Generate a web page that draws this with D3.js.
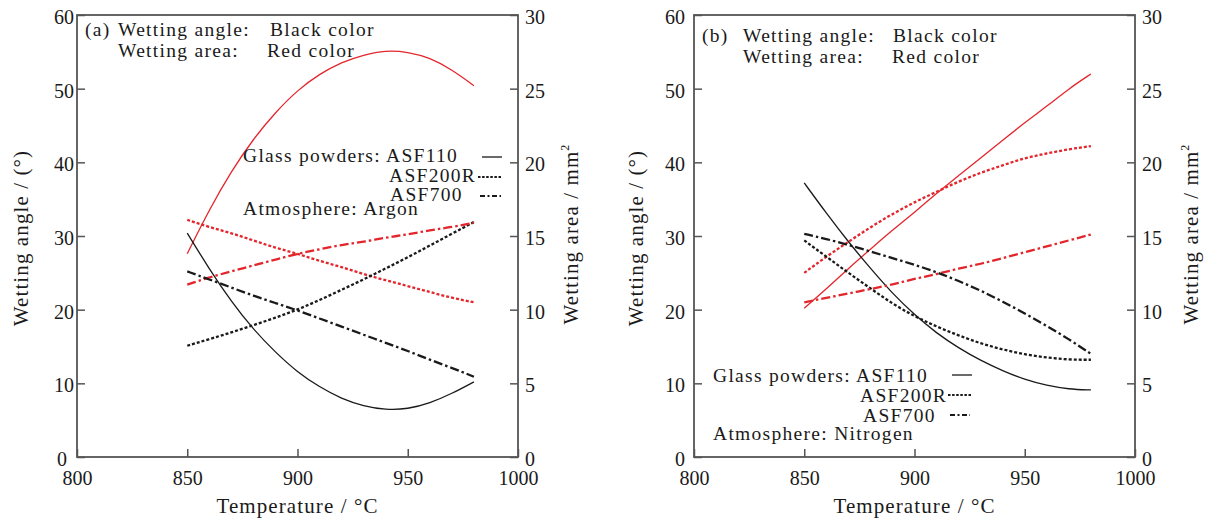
<!DOCTYPE html>
<html>
<head>
<meta charset="utf-8">
<script src="https://cdn.jsdelivr.net/npm/d3@7"></script>
<style>
body { margin: 0; background: #fff; }
svg { font-family: 'Liberation Serif', serif; }
</style>
</head>
<body>
<svg width="1206" height="521"></svg>
<script>
// readings taken every 10 degC, 850 .. 980
var temps = [850, 860, 870, 880, 890, 900, 910, 920, 930, 940, 950, 960, 970, 980];

// (a) argon
var angleArgon110  = [30.4, 25.5, 21.1, 17.3, 14.2, 11.5, 9.5, 7.9, 6.9, 6.4, 6.5, 7.3, 8.6, 10.2];
var angleArgon200R = [15.1, 16.0, 16.9, 17.9, 18.9, 20.0, 21.3, 22.7, 24.1, 25.6, 27.1, 28.7, 30.3, 31.9];
var angleArgon700  = [25.2, 24.1, 23.0, 21.9, 20.9, 19.9, 18.8, 17.7, 16.6, 15.5, 14.4, 13.2, 12.1, 10.9];
var areaArgon110   = [13.8, 16.8, 19.4, 21.6, 23.4, 24.9, 26.0, 26.8, 27.3, 27.6, 27.5, 27.1, 26.3, 25.2];
var areaArgon200R  = [16.1, 15.6, 15.2, 14.7, 14.2, 13.8, 13.3, 12.9, 12.4, 12.0, 11.6, 11.2, 10.8, 10.5];
var areaArgon700   = [11.7, 12.2, 12.6, 13.0, 13.4, 13.8, 14.1, 14.4, 14.6, 14.9, 15.1, 15.4, 15.6, 15.9];

// (b) nitrogen
var angleNitro110  = [37.2, 33.1, 29.2, 25.6, 22.2, 19.3, 16.8, 14.8, 13.1, 11.7, 10.5, 9.7, 9.2, 9.1];
var angleNitro200R = [29.4, 27.2, 25.0, 22.9, 20.8, 19.1, 17.7, 16.5, 15.4, 14.6, 13.9, 13.5, 13.2, 13.2];
var angleNitro700  = [30.3, 29.6, 28.8, 27.9, 27.0, 26.1, 25.1, 23.9, 22.6, 21.1, 19.5, 17.8, 16.0, 14.0];
var areaNitro110   = [10.1, 11.4, 12.8, 14.1, 15.4, 16.6, 17.9, 19.1, 20.3, 21.5, 22.7, 23.8, 25.0, 26.0];
var areaNitro200R  = [12.5, 13.6, 14.6, 15.6, 16.5, 17.3, 18.0, 18.7, 19.3, 19.8, 20.3, 20.6, 20.9, 21.1];
var areaNitro700   = [10.5, 10.8, 11.1, 11.4, 11.7, 12.1, 12.4, 12.8, 13.1, 13.5, 13.9, 14.3, 14.7, 15.1];

var tempTicks = [800, 850, 900, 950, 1000];
var angleTicks = [0, 10, 20, 30, 40, 50, 60];
var areaTicks = [0, 5, 10, 15, 20, 25, 30];
var powders = ['ASF110', 'ASF200R', 'ASF700'];

var RED = '#e3262c';
var INK = '#1a1a1a';
var FRAME = '#555';
var dash = { ASF110: null, ASF200R: '3,2', ASF700: '9,3,2.5,3' };
var legendDash = { ASF110: null, ASF200R: '2.5,1.6', ASF700: '5,2.5,2,2.5' };
var width = { ASF110: 1.3, ASF200R: 2.3, ASF700: 2.3 };

var svg = d3.select('svg');
var plotTop = 15, plotBottom = 457, plotW = 441;

var panels = [{
  left: 77, tag: '(a)', lblPad: 3, zeroShift: -7,
  angle: [angleArgon110, angleArgon200R, angleArgon700],
  area: [areaArgon110, areaArgon200R, areaArgon700],
  head: { tag: 85, words: 118, colors: [270, 267], y: [36, 56.5] },
  legend: {
    rows: [[243, 162, 482, 502, 157], [389, 182, 478, 502, 177], [390, 201, 480, 501, 196]],
    atmo: [243, 215, 'Atmosphere: Argon']
  },
  yTitle: 28, y2Title: 578
}, {
  left: 694, tag: '(b)', lblPad: 9, zeroShift: 0,
  angle: [angleNitro110, angleNitro200R, angleNitro700],
  area: [areaNitro110, areaNitro200R, areaNitro700],
  head: { tag: 702, words: 743, colors: [893, 892], y: [42, 63] },
  legend: {
    rows: [[713, 382, 952, 972, 375], [860, 402, 948, 972, 395], [863, 422, 950, 970, 415]],
    atmo: [713, 440, 'Atmosphere: Nitrogen']
  },
  yTitle: 643, y2Title: 1198
}];

function label(g, x, y, str) {
  return g.append('text').attr('x', x).attr('y', y)
    .style('font-size', '19.5px').style('letter-spacing', '1.3px')
    .attr('fill', INK).text(str);
}

function drawPanel(p) {
  var x = d3.scaleLinear().domain([800, 1000]).range([p.left, p.left + plotW]);
  var yAngle = d3.scaleLinear().domain([0, 60]).range([plotBottom, plotTop]);
  var yArea = d3.scaleLinear().domain([0, 30]).range([plotBottom, plotTop]);
  var g = svg.append('g');

  var ax = g.append('g').attr('transform', 'translate(0,' + plotBottom + ')')
    .call(d3.axisBottom(x).tickValues(tempTicks).tickFormat(d3.format('d')).tickSize(-8).tickPadding(14));
  var ay = g.append('g').attr('transform', 'translate(' + p.left + ',0)')
    .call(d3.axisLeft(yAngle).tickValues(angleTicks).tickSize(-8).tickPadding(p.lblPad));
  var ay2 = g.append('g').attr('transform', 'translate(' + (p.left + plotW) + ',0)')
    .call(d3.axisRight(yArea).tickValues(areaTicks).tickSize(-8).tickPadding(7));
  [ax, ay, ay2].forEach(function(a) {
    a.select('.domain').remove();
    a.selectAll('line').attr('stroke', FRAME).attr('stroke-width', 1.5);
    a.selectAll('text').attr('font-family', 'Liberation Serif').attr('font-size', 20).attr('fill', INK);
  });
  ay.selectAll('text').attr('dy', '0.42em');
  ay2.selectAll('text').attr('dy', '0.42em');
  // the corner zero sits a bit to the left, clear of "800"
  ay.selectAll('.tick').filter(function(d) { return d == 0; }).select('text').attr('dx', p.zeroShift);

  g.append('rect').attr('x', p.left).attr('y', plotTop).attr('width', plotW).attr('height', plotBottom - plotTop)
    .attr('fill', 'none').attr('stroke', FRAME).attr('stroke-width', 1.8);

  // curves: black = angle (left axis), red = area (right axis)
  var lineAngle = d3.line().curve(d3.curveBasis)
    .x(function(d, i) { return x(temps[i]); }).y(function(d) { return yAngle(d); });
  var lineArea = d3.line().curve(d3.curveBasis)
    .x(function(d, i) { return x(temps[i]); }).y(function(d) { return yArea(d); });
  powders.forEach(function(name, k) {
    g.append('path').attr('d', lineArea(p.area[k])).attr('fill', 'none')
      .attr('stroke', RED).attr('stroke-width', width[name]).attr('stroke-dasharray', dash[name]);
    g.append('path').attr('d', lineAngle(p.angle[k])).attr('fill', 'none')
      .attr('stroke', INK).attr('stroke-width', width[name]).attr('stroke-dasharray', dash[name]);
  });

  // header text
  var h = p.head;
  label(g, h.tag, h.y[0], p.tag);
  label(g, h.words, h.y[0], 'Wetting angle:');
  label(g, h.colors[0], h.y[0], 'Black color');
  label(g, h.words, h.y[1], 'Wetting area:');
  label(g, h.colors[1], h.y[1], 'Red color');

  // legend
  p.legend.rows.forEach(function(r, k) {
    label(g, r[0], r[1], k == 0 ? 'Glass powders: ' + powders[k] : powders[k]);
    g.append('line').attr('x1', r[2]).attr('x2', r[3]).attr('y1', r[4]).attr('y2', r[4])
      .attr('stroke', INK).attr('stroke-width', k == 0 ? 1.3 : 2)
      .attr('stroke-dasharray', legendDash[powders[k]]);
  });
  label(g, p.legend.atmo[0], p.legend.atmo[1], p.legend.atmo[2]);

  // axis titles
  g.append('text').attr('x', p.left + plotW / 2).attr('y', 513).attr('text-anchor', 'middle')
    .style('font-size', '21px').style('letter-spacing', '1.1px').attr('fill', INK)
    .text('Temperature / °C');
  g.append('text').attr('transform', 'translate(' + p.yTitle + ',' + 238 + ') rotate(-90)')
    .attr('text-anchor', 'middle').style('font-size', '21px').style('letter-spacing', '1.1px')
    .attr('fill', INK).text('Wetting angle / (°)');
  var t2 = g.append('text').attr('transform', 'translate(' + p.y2Title + ',' + 234 + ') rotate(-90)')
    .attr('text-anchor', 'middle').style('font-size', '21px').style('letter-spacing', '1.1px')
    .attr('fill', INK);
  t2.append('tspan').text('Wetting area / mm');
  t2.append('tspan').attr('dy', -9).style('font-size', '12px').text('2');
}

panels.forEach(drawPanel);
</script>
</body>
</html>
